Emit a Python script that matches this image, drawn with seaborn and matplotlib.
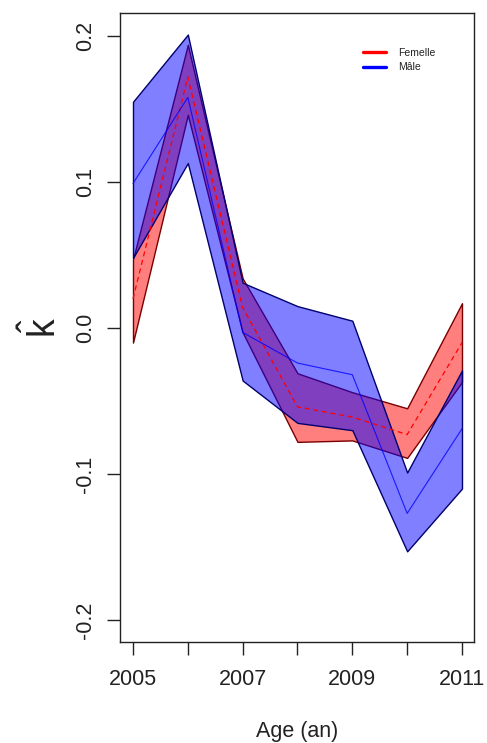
import numpy as np
import pandas as pd
import matplotlib
matplotlib.use("Agg")
import matplotlib.pyplot as plt
import seaborn as sns
from matplotlib.lines import Line2D

years = [2005, 2006, 2007, 2008, 2009, 2010, 2011]

# Female estimates of k with lower / upper bounds
fem_mean = [0.020, 0.172, 0.014, -0.054, -0.061, -0.073, -0.010]
fem_low = [-0.010, 0.146, -0.003, -0.078, -0.077, -0.089, -0.037]
fem_up = [0.047, 0.194, 0.034, -0.031, -0.044, -0.055, 0.017]

# Male estimates of k with lower / upper bounds
male_mean = [0.099, 0.158, -0.003, -0.024, -0.032, -0.127, -0.069]
male_low = [0.048, 0.113, -0.036, -0.065, -0.070, -0.153, -0.110]
male_up = [0.155, 0.201, 0.031, 0.015, 0.005, -0.099, -0.029]

y_ticks = [-0.2, -0.1, 0.0, 0.1, 0.2]
x_tick_labels = ["2005", "", "2007", "", "2009", "", "2011"]

sns.set_theme(style="white")
plt.rcParams["font.family"] = ["Liberation Sans", "DejaVu Sans"]
plt.rcParams["mathtext.fontset"] = "custom"
plt.rcParams["mathtext.rm"] = "Liberation Sans"

ink = "#222222"
fig = plt.figure(figsize=(4.87, 7.43), dpi=100)
ax = fig.add_axes([120 / 487, 1 - 642 / 743, 354 / 487, 629 / 743])

ax.fill_between(years, fem_low, fem_up, facecolor=(1, 0, 0, 0.5),
                edgecolor="#7a0000", linewidth=1.0, zorder=2)
ax.fill_between(years, male_low, male_up, facecolor=(0, 0, 1, 0.5),
                edgecolor="#00006e", linewidth=1.0, zorder=3)

df = pd.DataFrame({
    "year": years * 2,
    "k": fem_mean + male_mean,
    "sexe": ["Femelle"] * len(years) + ["Mâle"] * len(years),
})
sns.lineplot(data=df[df.sexe == "Femelle"], x="year", y="k", color="red",
             linewidth=0.9, linestyle=(0, (4, 3)), ax=ax, zorder=4)
sns.lineplot(data=df[df.sexe == "Mâle"], x="year", y="k", color="blue",
             linewidth=0.8, ax=ax, zorder=5, alpha=0.8)

ax.set_xlim(2004.763, 2011.219)
ax.set_ylim(-0.2151, 0.2158)

fs = 15.5
ax.set_xticks(years)
ax.set_xticklabels(x_tick_labels, fontsize=fs, color=ink)
ax.set_yticks(y_ticks)
ax.set_yticklabels([f"{v:.1f}" for v in y_ticks], fontsize=fs,
                   rotation=90, va="center", color=ink)
ax.tick_params(axis="both", direction="out", length=9.4, width=1.0,
               color=ink, left=True, bottom=True)
ax.tick_params(axis="x", pad=10)
ax.tick_params(axis="y", pad=8)

for s in ax.spines.values():
    s.set_visible(True)
    s.set_color(ink)
    s.set_linewidth(1.0)

ax.set_xlabel("Age (an)", fontsize=fs, color=ink, labelpad=22.5)
ax.set_ylabel(r"$\hat{\mathrm{k}}$", fontsize=27, color=ink, labelpad=8)

handles = [Line2D([], [], color="red", linewidth=2.4),
           Line2D([], [], color="blue", linewidth=2.4)]
leg = ax.legend(handles, ["Femelle", "Mâle"], loc="upper left",
                bbox_to_anchor=(0.676, 0.951), frameon=False, fontsize=7.5,
                handlelength=2.2, labelspacing=0.4, handletextpad=1.1,
                borderaxespad=0, borderpad=0.4)
for t in leg.get_texts():
    t.set_color(ink)

fig.savefig("out.png", dpi=100)
